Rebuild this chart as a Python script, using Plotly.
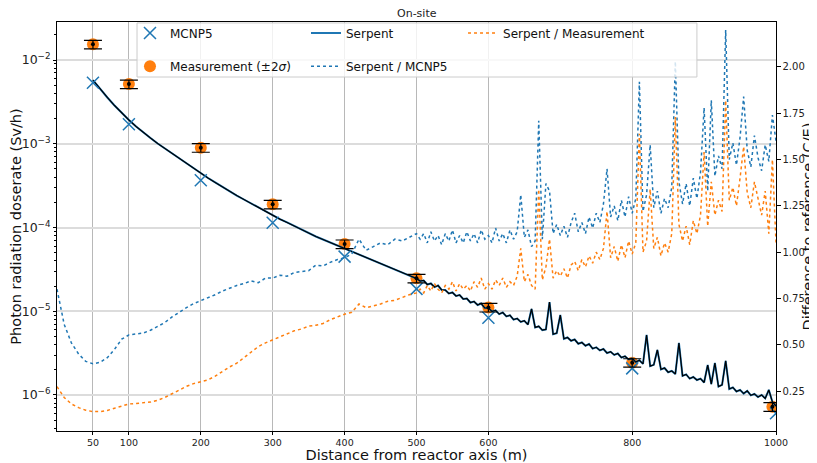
import plotly.graph_objects as go

# ---------------- data ----------------
meas_x = [50, 100, 200, 300, 400, 500, 600, 800, 995]
meas_y = [1.54e-2, 5.16e-3, 8.97e-4, 1.89e-4, 6.35e-5, 2.47e-5, 1.11e-5, 2.43e-6, 7.24e-7]
meas_err = [1.8e-3, 6.0e-4, 1.05e-4, 2.2e-5, 7.4e-6, 2.9e-6, 1.3e-6, 2.8e-7, 8.5e-8]

mcnp_x = [50, 100, 200, 300, 400, 500, 600, 800, 1000]
mcnp_y = [5.36e-3, 1.71e-3, 3.66e-4, 1.14e-4, 4.49e-5, 1.85e-5, 8.37e-6, 2.08e-6, 6.04e-7]

dist_coarse = list(range(0, 501, 10))
dist_fine = list(range(505, 1001, 5))
ratio_x = dist_coarse + dist_fine
serpent_x = list(range(50, 501, 10)) + dist_fine

serpent_y = [
    5.77e-3, 4.51e-3, 3.57e-3, 2.86e-3, 2.33e-3, 1.92e-3, 1.61e-3, 1.36e-3, 1.17e-3, 1.007e-3,
    8.78e-4, 7.65e-4, 6.67e-4, 5.81e-4, 5.07e-4, 4.41e-4, 3.90e-4, 3.45e-4, 3.04e-4, 2.69e-4,
    2.41e-4, 2.16e-4, 1.93e-4, 1.73e-4, 1.55e-4, 1.39e-4, 1.26e-4, 1.15e-4, 1.04e-4, 9.46e-5,
    8.60e-5, 7.81e-5, 7.19e-5, 6.62e-5, 6.10e-5, 5.61e-5, 5.17e-5, 4.76e-5, 4.38e-5, 4.04e-5,
    3.72e-5, 3.42e-5, 3.15e-5, 2.90e-5, 2.67e-5, 2.46e-5,
    # 505 .. 1000 every 5 m
    2.297e-5, 2.329e-5, 2.086e-5, 2.145e-5, 1.949e-5, 2.030e-5, 1.794e-5, 1.794e-5, 1.629e-5, 1.675e-5,
    1.521e-5, 1.563e-5, 1.400e-5, 1.420e-5, 1.272e-5, 1.307e-5, 1.187e-5, 1.237e-5, 1.093e-5, 1.093e-5,
    9.96e-6, 1.026e-5, 9.25e-6, 9.66e-6, 8.68e-6, 8.95e-6, 7.95e-6, 8.19e-6, 7.46e-6, 7.69e-6,
    6.93e-6, 1.064e-5, 6.42e-6, 6.61e-6, 5.96e-6, 6.06e-6, 1.289e-5, 5.31e-6, 5.48e-6, 9.02e-6,
    4.69e-6, 4.86e-6, 4.44e-6, 4.60e-6, 4.09e-6, 4.24e-6, 3.87e-6, 4.06e-6, 3.58e-6, 3.71e-6,
    3.41e-6, 3.54e-6, 3.17e-6, 3.28e-6, 3.01e-6, 3.13e-6, 2.80e-6, 2.90e-6, 2.66e-6, 2.73e-6,
    2.47e-6, 2.60e-6, 2.35e-6, 5.21e-6, 2.21e-6, 2.29e-6, 3.45e-6, 2.02e-6, 2.10e-6, 1.87e-6,
    1.94e-6, 1.78e-6, 4.18e-6, 1.69e-6, 1.76e-6, 1.57e-6, 1.64e-6, 1.51e-6, 1.57e-6, 1.41e-6,
    2.28e-6, 1.35e-6, 2.41e-6, 1.26e-6, 1.32e-6, 2.55e-6, 1.18e-6, 1.23e-6, 1.10e-6, 1.15e-6,
    1.04e-6, 1.12e-6, 9.89e-7, 1.03e-6, 9.44e-7, 1.0e-6, 9.11e-7, 1.15e-6, 8.25e-7, 7.39e-7,
]

ratio_mcnp = [
    0.80, 0.61, 0.51, 0.45, 0.41, 0.397, 0.405, 0.43, 0.475, 0.53,
    0.553, 0.558, 0.563, 0.578, 0.597, 0.62, 0.65, 0.677, 0.70, 0.722,
    0.738, 0.751, 0.77, 0.79, 0.805, 0.82, 0.83, 0.845, 0.835, 0.86,
    0.86, 0.875, 0.87, 0.89, 0.895, 0.90, 0.93, 0.925, 0.945, 0.96,
    0.97, 0.99, 1.07, 1.01, 1.03, 1.05, 1.04, 1.07, 1.06, 1.08, 1.10,
    # 505 .. 1000 every 5 m
    1.07, 1.10, 1.05, 1.11, 1.06, 1.09, 1.04, 1.10, 1.06, 1.12,
    1.05, 1.09, 1.05, 1.11, 1.06, 1.10, 1.05, 1.12, 1.07, 1.09,
    1.05, 1.13, 1.06, 1.10, 1.05, 1.12, 1.07, 1.11, 1.31, 1.08,
    1.12, 1.03, 1.06, 1.71, 1.07, 1.37, 1.33, 1.10, 1.15, 1.09,
    1.14, 1.08, 1.16, 1.21, 1.11, 1.16, 1.10, 1.19, 1.13, 1.21,
    1.16, 1.26, 1.45, 1.19, 1.25, 1.17, 1.28, 1.19, 1.30, 1.21,
    1.29, 1.92, 1.22, 1.31, 1.58, 1.24, 1.33, 1.21, 1.29, 1.24,
    1.35, 2.03, 1.38, 1.26, 1.37, 1.25, 1.40, 1.29, 1.43, 1.78,
    1.33, 1.82, 1.41, 1.52, 1.45, 2.20, 1.50, 1.59, 1.47, 1.62,
    1.84, 1.55, 1.46, 1.63, 1.51, 1.44, 1.58, 1.49, 1.74, 1.60,
]

ratio_meas = [
    0.274, 0.215, 0.18, 0.16, 0.146, 0.139, 0.139, 0.145, 0.157, 0.17,
    0.18, 0.183, 0.185, 0.19, 0.20, 0.215, 0.235, 0.255, 0.275, 0.29,
    0.30, 0.31, 0.33, 0.355, 0.38, 0.40, 0.43, 0.46, 0.49, 0.51,
    0.526, 0.545, 0.56, 0.575, 0.585, 0.60, 0.605, 0.615, 0.635, 0.65,
    0.665, 0.675, 0.72, 0.70, 0.71, 0.72, 0.735, 0.74, 0.755, 0.77, 0.78,
    # 505 .. 1000 every 5 m
    0.80, 0.78, 0.82, 0.79, 0.83, 0.80, 0.78, 0.82, 0.80, 0.84,
    0.79, 0.83, 0.80, 0.82, 0.79, 0.84, 0.81, 0.86, 0.80, 0.83,
    0.80, 0.85, 0.82, 0.86, 0.81, 0.84, 0.82, 0.87, 1.02, 0.84,
    0.88, 0.82, 0.80, 1.34, 0.85, 0.92, 1.07, 0.86, 0.90, 0.87,
    0.91, 0.86, 0.93, 0.95, 0.90, 0.96, 0.92, 0.98, 0.94, 1.00,
    0.96, 1.02, 1.22, 0.97, 1.03, 0.95, 1.04, 0.97, 1.06, 0.99,
    1.05, 1.64, 1.00, 1.06, 1.34, 1.02, 1.08, 0.98, 1.05, 1.00,
    1.10, 1.73, 1.15, 1.06, 1.14, 1.04, 1.17, 1.10, 1.20, 1.54,
    1.14, 1.38, 1.20, 1.28, 1.22, 1.82, 1.28, 1.35, 1.25, 1.40,
    1.57, 1.32, 1.24, 1.38, 1.28, 1.20, 1.33, 1.10, 1.50, 1.05,
]

x_ticks = [50, 100, 200, 300, 400, 500, 600, 800, 1000]
y2_ticks = [0.25, 0.50, 0.75, 1.00, 1.25, 1.50, 1.75, 2.00]

assert len(serpent_x) == len(serpent_y)
assert len(ratio_x) == len(ratio_mcnp) == len(ratio_meas)

BLUE = "#1f77b4"
ORANGE = "#ff7f0e"
FONT = "DejaVu Sans"

fig = go.Figure()

fig.add_trace(go.Scatter(x=meas_x, y=meas_y, mode="markers", name="Measurement (±2<i>σ</i>)",
                         marker=dict(color=ORANGE, size=12, symbol="circle"), legend="legend2"))
fig.add_trace(go.Scatter(x=serpent_x, y=serpent_y, mode="lines", name="Serpent",
                         line=dict(color=BLUE, width=2.0), legend="legend3"))
fig.add_trace(go.Scatter(x=serpent_x, y=serpent_y, mode="lines", showlegend=False,
                         line=dict(color="black", width=1.2)))
fig.add_trace(go.Scatter(x=mcnp_x, y=mcnp_y, mode="markers", name="MCNP5",
                         marker=dict(color=BLUE, size=12, symbol="x-thin-open",
                                     line=dict(color=BLUE, width=1.5)), legend="legend"))
fig.add_trace(go.Scatter(x=meas_x, y=meas_y, mode="markers", showlegend=False,
                         marker=dict(color="black", size=4),
                         error_y=dict(type="data", array=meas_err, color="black",
                                      thickness=1.2, width=9)))
fig.add_trace(go.Scatter(x=ratio_x, y=ratio_mcnp, mode="lines", name="Serpent / MCNP5",
                         yaxis="y2", line=dict(color=BLUE, width=1.5, dash="dot"),
                         legend="legend4"))
fig.add_trace(go.Scatter(x=ratio_x, y=ratio_meas, mode="lines", name="Serpent / Measurement",
                         yaxis="y2", line=dict(color=ORANGE, width=1.5, dash="dot"),
                         legend="legend5"))

leg_common = dict(font=dict(family=FONT, size=12, color="#111"), bgcolor="rgba(0,0,0,0)",
                  borderwidth=0, xanchor="left", yanchor="middle", orientation="v")

# the page body adds an 8 px offset, so the figure is sized to fill the rest of the window
fig.update_layout(
    width=809, height=455,
    margin=dict(l=49, r=41, t=14, b=32, autoexpand=False),
    paper_bgcolor="white", plot_bgcolor="white",
    font=dict(family=FONT, size=10, color="#222"),
    xaxis=dict(range=[0, 1000], tickvals=x_ticks, showgrid=True, gridcolor="#b8b8b8",
               gridwidth=1, zeroline=False, showline=True, linecolor="black", linewidth=1,
               mirror=True, ticks="outside", ticklen=2.5, tickcolor="black",
               tickfont=dict(size=9.5), automargin=False,
               title=dict(text="Distance from reactor axis (m)", font=dict(size=14.5, color="#111"),
                          standoff=2)),
    yaxis=dict(type="log", range=[-6.43, -1.546], dtick=1, exponentformat="power",
               showgrid=True, gridcolor="#dcdcdc", gridwidth=2, zeroline=False,
               showline=True, linecolor="black", linewidth=1, mirror=True,
               ticks="outside", ticklen=3.5, tickcolor="black", tickfont=dict(size=10),
               minor=dict(ticks="outside", ticklen=2, tickcolor="black", showgrid=False),
               automargin=False,
               title=dict(text="Photon radiation doserate (Sv/h)", font=dict(size=14.5, color="#111"),
                          standoff=3)),
    yaxis2=dict(overlaying="y", side="right", range=[0.034, 2.243], tickvals=y2_ticks,
                tickformat=".2f", showgrid=False, zeroline=False, showline=True,
                linecolor="black", linewidth=1, ticks="outside", ticklen=3.5,
                tickcolor="black", tickfont=dict(size=10), automargin=False),
    legend=dict(x=0.1015, y=0.973, **leg_common),
    legend2=dict(x=0.1015, y=0.892, **leg_common),
    legend3=dict(x=0.3463, y=0.973, **leg_common),
    legend4=dict(x=0.3463, y=0.892, **leg_common),
    legend5=dict(x=0.5647, y=0.973, **leg_common),
    shapes=[dict(type="rect", xref="paper", yref="paper", x0=0.1113, x1=0.890,
                 y0=0.8655, y1=0.9976, fillcolor="rgba(255,255,255,0.8)",
                 line=dict(color="#cccccc", width=1), layer="above")],
    annotations=[
        dict(text="On-site", xref="paper", yref="paper", x=0.5, y=1.022,
             xanchor="center", yanchor="middle", showarrow=False,
             font=dict(family=FONT, size=11, color="#222")),
        dict(text="Difference to reference (C/E)", xref="paper", yref="paper",
             x=1.0445, y=0.5, xanchor="center", yanchor="middle", textangle=-90,
             showarrow=False, font=dict(family=FONT, size=14.5, color="#111")),
    ],
    showlegend=True,
)

fig.write_html("out.html")
